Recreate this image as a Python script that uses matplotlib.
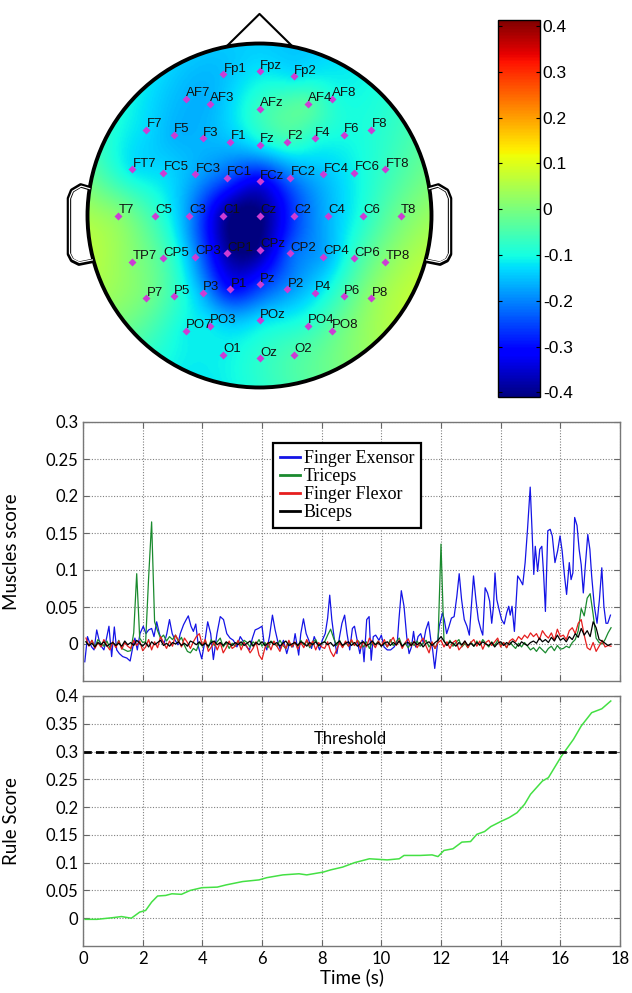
import numpy as np
import matplotlib.pyplot as plt
from matplotlib.patches import Circle
from matplotlib.ticker import FuncFormatter

plt.rcParams['font.family'] = ['Lato', 'DejaVu Sans']

# ---- topographic map: electrode names, positions (head radius = 1) and values
names = ['Fp1', 'Fpz', 'Fp2',
         'AF7', 'AF3', 'AFz', 'AF4', 'AF8',
         'F7', 'F5', 'F3', 'F1', 'Fz', 'F2', 'F4', 'F6', 'F8',
         'FT7', 'FC5', 'FC3', 'FC1', 'FCz', 'FC2', 'FC4', 'FC6', 'FT8',
         'T7', 'C5', 'C3', 'C1', 'Cz', 'C2', 'C4', 'C6', 'T8',
         'TP7', 'CP5', 'CP3', 'CP1', 'CPz', 'CP2', 'CP4', 'CP6', 'TP8',
         'P7', 'P5', 'P3', 'P1', 'Pz', 'P2', 'P4', 'P6', 'P8',
         'PO7', 'PO3', 'POz', 'PO4', 'PO8',
         'O1', 'Oz', 'O2']
elec_x = [-0.21, 0.0, 0.20,
          -0.43, -0.29, 0.0, 0.28, 0.42,
          -0.66, -0.50, -0.33, -0.17, 0.0, 0.16, 0.32, 0.49, 0.65,
          -0.74, -0.56, -0.375, -0.19, 0.0, 0.18, 0.37, 0.55, 0.73,
          -0.82, -0.61, -0.41, -0.21, 0.0, 0.20, 0.40, 0.60, 0.82,
          -0.74, -0.56, -0.375, -0.19, 0.0, 0.18, 0.37, 0.55, 0.73,
          -0.66, -0.50, -0.33, -0.17, 0.0, 0.16, 0.32, 0.49, 0.65,
          -0.43, -0.29, 0.0, 0.28, 0.42,
          -0.21, 0.0, 0.20]
elec_y = [0.82, 0.84, 0.81,
          0.68, 0.65, 0.62, 0.65, 0.68,
          0.50, 0.47, 0.45, 0.43, 0.41, 0.43, 0.45, 0.47, 0.50,
          0.27, 0.25, 0.24, 0.22, 0.20, 0.22, 0.24, 0.25, 0.27,
          0.0, 0.0, 0.0, 0.0, 0.0, 0.0, 0.0, 0.0, 0.0,
          -0.27, -0.25, -0.24, -0.22, -0.20, -0.22, -0.24, -0.25, -0.27,
          -0.48, -0.47, -0.45, -0.43, -0.40, -0.43, -0.45, -0.47, -0.48,
          -0.67, -0.64, -0.61, -0.64, -0.67,
          -0.81, -0.83, -0.81]
elec_v = [-0.15, -0.12, -0.12,
          -0.16, -0.16, -0.07, -0.04, -0.09,
          -0.13, -0.16, -0.16, -0.15, -0.12, -0.07, -0.09, -0.10, -0.09,
          -0.12, -0.13, -0.17, -0.24, -0.32, -0.21, -0.15, -0.11, -0.07,
          0.01, -0.07, -0.19, -0.38, -0.41, -0.26, -0.16, -0.09, -0.01,
          0.01, -0.05, -0.19, -0.38, -0.39, -0.23, -0.17, -0.07, 0.01,
          -0.01, -0.07, -0.17, -0.30, -0.27, -0.19, -0.13, -0.05, 0.02,
          -0.11, -0.12, -0.13, -0.08, -0.03,
          -0.11, -0.08, -0.05]
cbar_ticks = [-0.4, -0.3, -0.2, -0.1, 0, 0.1, 0.2, 0.3, 0.4]

# ---- muscle scores (values in thousandths)
blue_pts = [(0.06, -24), (0.15, 10), (0.21, 3), (0.29, -4), (0.37, -8), (0.46, 19), (0.54, 5),
            (0.63, -4), (0.70, -8), (0.79, 8), (0.87, 24), (0.96, -17), (1.05, 23), (1.13, -8),
            (1.22, -13), (1.33, -17), (1.47, -19), (1.58, -23), (1.67, -4), (1.74, 8), (1.82, -8),
            (1.91, 14), (2.02, 24), (2.11, 14), (2.20, 19), (2.30, 21), (2.38, 10), (2.47, 30),
            (2.56, 14), (2.64, 5), (2.72, 1), (2.81, 14), (2.90, 33), (2.99, 14), (3.09, 5),
            (3.18, -1), (3.26, 14), (3.37, 26), (3.46, 33), (3.53, 38), (3.62, 24), (3.70, 17),
            (3.78, 27), (3.87, -4), (3.98, -20), (4.09, 5), (4.18, 30), (4.28, 14), (4.37, -21),
            (4.49, 14), (4.60, 37), (4.71, 33), (4.82, 14), (4.93, 8), (5.04, 5), (5.16, -4),
            (5.27, 10), (5.38, 3), (5.49, -4), (5.58, -8), (5.68, 8), (5.77, 19), (5.88, 21),
            (6.00, 24), (6.07, 1), (6.16, -8), (6.25, 10), (6.35, 39), (6.44, 19), (6.52, 5),
            (6.61, -7), (6.72, 5), (6.83, -13), (6.92, 1), (7.04, -4), (7.11, 14), (7.23, -15),
            (7.30, 14), (7.39, 34), (7.48, 14), (7.57, 5), (7.66, -6), (7.75, 10), (7.84, 1),
            (7.93, -8), (8.02, 5), (8.12, 14), (8.20, 35), (8.27, 66), (8.34, 33), (8.42, 8),
            (8.51, -13), (8.60, 10), (8.68, 28), (8.77, 39), (8.85, 14), (8.94, -8),
            (9.03, 21), (9.10, 24), (9.19, 5), (9.28, -13), (9.36, 5), (9.42, -24), (9.51, 33),
            (9.59, 37), (9.66, -22), (9.73, 10), (9.81, 12), (9.92, 5), (10.00, 12), (10.09, -4),
            (10.20, -8), (10.31, -8), (10.43, -4), (10.54, 5), (10.59, 33), (10.67, 72),
            (10.76, 51), (10.85, 10), (10.93, -13), (11.01, -4), (11.08, 17), (11.15, -4),
            (11.23, 10), (11.32, 14), (11.41, 1), (11.49, 19), (11.58, 30), (11.66, 5),
            (11.72, -8), (11.79, -33), (11.86, -8), (11.94, 24), (12.05, 42), (12.11, 33),
            (12.19, 14), (12.27, 24), (12.35, 35), (12.44, 37), (12.53, 64), (12.61, 95),
            (12.69, 60), (12.78, 33), (12.87, 24), (12.95, 12), (13.02, 51), (13.09, 92),
            (13.17, 60), (13.25, 33), (13.34, 19), (13.40, 12), (13.48, 76), (13.56, 69),
            (13.63, 58), (13.70, 28), (13.76, 51), (13.81, 96), (13.87, 60), (13.95, 46),
            (14.03, 33), (14.12, 27), (14.20, 42), (14.27, 51), (14.32, 39), (14.38, 51),
            (14.46, 17), (14.57, 92), (14.65, 87), (14.74, 80), (14.82, 110), (14.90, 155),
            (14.99, 212), (15.05, 155), (15.11, 94), (15.16, 132), (15.24, 98), (15.31, 128),
            (15.38, 132), (15.44, 94), (15.50, 44), (15.58, 153), (15.66, 155), (15.73, 146),
            (15.82, 110), (15.91, 126), (15.99, 146), (16.06, 126), (16.14, 92), (16.21, 67),
            (16.30, 110), (16.36, 87), (16.42, 96), (16.48, 171), (16.56, 160), (16.63, 128),
            (16.70, 107), (16.77, 69), (16.84, 107), (16.92, 148), (16.99, 128), (17.05, 92),
            (17.14, 51), (17.23, 28), (17.31, 60), (17.39, 103), (17.46, 51), (17.53, 28),
            (17.59, 28), (17.68, 39)]

t_grid = np.round(np.arange(1, 178) * 0.1, 1)   # 0.1 ... 17.7 s
triceps = [3, -2, 5, -4, 6, 1, -3, 4, -5, 2,
           -3, 5, -6, -8, -10, -9, 15, 95, 8, 2,
           3, 90, 165, 30, 18, 8, 12, 4, 10, 6,
           12, 3, 9, -2, -10, -12, -6, -9, 2, -3,
           4, -5, 6, -2, 3, 8, -4, 2, -6, 1,
           -3, 4, -2, 5, 2, -4, 3, -1, 6, -3,
           2, -5, 4, 1, -3, 5, -2, -6, 3, -4,
           2, -3, 5, -1, 4, -5, 2, 6, -3, 1,
           3, 12, 20, 8, -2, 5, -4, 2, -3, 4,
           -2, 5, 1, -4, 3, -6, 2, -1, 4, -3,
           2, -4, 6, -2, 3, 8, -3, 1, -5, 2,
           -2, 4, -3, 1, 5, -4, 2, -6, 3, 135,
           4, -2, 5, -3, 2, 6, -4, 1, -5, 3,
           -3, 4, -2, 6, 1, -4, 3, -2, 5, -1,
           2, -5, 3, -2, -6, 1, -4, 2, -3, -8,
           -5, -10, -4, -8, -12, -6, -3, -9, -2, -7,
           -6, -3, -5, 2, 6, 18, 48, 38, 62, 68,
           40, 8, 2, 0, 6, 15, 22]
flexor = [8, -3, 5, -6, 2, -4, 6, -2, -8, 3,
          -5, 4, -7, 2, -3, -6, 5, -2, 4, -9,
          -4, 6, -8, 3, -5, 10, 2, -6, 4, -3,
          12, 5, -4, 8, 2, -6, 3, 10, 14, -2,
          6, -10, -4, 3, -8, 2, -12, -5, 4, -6,
          -3, 5, -8, 2, -4, -12, -6, 3, -15, -21,
          -5, 2, -8, 4, -3, -10, 1, -6, 5, -4,
          3, -7, 2, -5, 6, -3, 4, -8, 2, -4,
          -6, 3, -10, -17, -8, 2, -5, 4, -3, 6,
          -2, 5, -6, 3, -4, 8, 2, -5, 4, -3,
          6, -4, 3, 9, -2, 5, -6, 2, 7, -3,
          4, -5, 2, 8, -3, -12, 3, -6, 2, 5,
          -4, 3, -6, 2, 5, -8, -3, 4, -5, 2,
          6, -3, 4, -7, 2, 5, -2, 3, 8, -4,
          2, -5, 4, 7, 3, 10, 6, 12, 8, 15,
          10, 14, 6, 18, 12, 8, 15, 5, 20, 10,
          12, 6, 18, 22, 14, 28, 33, 12, -5, -8,
          2, -10, -3, 5, -4, -2, -3]
biceps = [3, -2, 1, -4, 2, -1, 3, -3, 0, 2,
          -2, 1, -3, 4, -1, 2, -2, 5, 1, -3,
          2, -4, 3, -1, 2, 5, -2, 1, -3, 2,
          0, 3, -2, 1, -3, 4, 2, -1, 3, -2,
          1, -3, 2, 4, -1, 2, -2, 3, 0, -2,
          2, -1, 3, -2, 1, 4, -3, 2, -1, 3,
          -2, 1, 3, -1, 2, -3, 1, 4, -2, 0,
          2, -2, 3, 1, -3, 2, -1, 3, -2, 1,
          3, -1, 2, -3, 1, 4, -2, 1, 3, -2,
          2, -3, 1, 3, -2, 0, 4, -1, 2, -3,
          1, 3, -2, 2, -1, 4, -3, 1, 2, -2,
          3, -1, 2, -4, 1, 3, -2, 2, 5, 10,
          4, -2, 3, 1, -3, 2, -1, 4, -2, 1,
          -3, 2, -1, 3, 0, -2, 2, -4, 1, 3,
          -2, 2, -1, 4, 1, -3, 3, 0, -2, 2,
          4, 1, 8, 3, 6, 2, 9, 4, 12, 5,
          8, 3, 10, 6, 14, 9, 21, 12, 18, 10,
          30, 22, 6, 4, 1, -2, 0]

# ---- rule score
rule_pts = [(0.07, -0.002), (0.47, -0.002), (1.0, 0.001), (1.29, 0.003), (1.62, 0.0),
            (1.9, 0.011), (2.1, 0.014), (2.3, 0.029), (2.5, 0.04), (2.77, 0.041), (2.98, 0.044),
            (3.3, 0.043), (3.59, 0.05), (3.99, 0.055), (4.5, 0.056), (4.8, 0.06), (5.35, 0.066),
            (5.9, 0.069), (6.16, 0.073), (6.7, 0.078), (7.24, 0.08), (7.5, 0.078), (8.05, 0.083),
            (8.3, 0.087), (8.7, 0.092), (9.1, 0.1), (9.6, 0.107), (10.2, 0.105), (10.6, 0.107),
            (10.76, 0.113), (11.3, 0.113), (11.7, 0.114), (11.9, 0.111), (12.1, 0.122),
            (12.4, 0.125), (12.7, 0.137), (12.99, 0.138), (13.2, 0.151), (13.46, 0.156),
            (13.67, 0.165), (14.0, 0.174), (14.28, 0.181), (14.55, 0.19), (14.8, 0.205),
            (15.0, 0.223), (15.4, 0.247), (15.6, 0.253), (16.04, 0.292), (16.44, 0.322),
            (16.7, 0.346), (17.05, 0.37), (17.39, 0.377), (17.69, 0.391)]
threshold = 0.3

W, H = 632, 993
fig = plt.figure(figsize=(W / 100, H / 100), dpi=100)


def px_axes(x0, y0, x1, y1):
    return fig.add_axes([x0 / W, 1 - y1 / H, (x1 - x0) / W, (y1 - y0) / H])


def fmt(v, pos=None):
    return '0' if abs(v) < 1e-9 else '%g' % round(v, 2)


# ---------------- head plot ----------------
ax0 = px_axes(49.5, 5.5, 469.5, 425.5)
ax0.set_xlim(-1.221, 1.221)
ax0.set_ylim(-1.221, 1.221)
ax0.axis('off')

ex, ey, ev = np.array(elec_x), np.array(elec_y), np.array(elec_v)


def green_fn(r):
    with np.errstate(divide='ignore', invalid='ignore'):
        g = r ** 2 * (np.log(r) - 1)
    return np.where(r > 0, g, 0.0)


# biharmonic spline interpolation (like griddata 'v4')
dd = np.hypot(ex[:, None] - ex[None, :], ey[:, None] - ey[None, :])
wts = np.linalg.solve(green_fn(dd), ev)
gx = np.linspace(-1, 1, 301)
GX, GY = np.meshgrid(gx, gx)
rr = np.hypot(GX.ravel()[:, None] - ex[None, :], GY.ravel()[:, None] - ey[None, :])
Z = (green_fn(rr) @ wts).reshape(GX.shape)

im = ax0.imshow(Z, extent=(-1, 1, -1, 1), origin='lower', cmap='jet',
                vmin=-0.41, vmax=0.413, interpolation='bilinear')
im.set_clip_path(Circle((0, 0), 1.0, transform=ax0.transData))
ax0.add_patch(Circle((0, 0), 1.0, fill=False, lw=2.8, color='black'))
ax0.plot([-0.19, 0, 0.19], [0.985, 1.172, 0.985], color='black', lw=1.5)
ear_x = np.array([-0.99, -1.04, -1.09, -1.108, -1.108, -1.09, -1.05, -0.975])
ear_y = np.array([0.16, 0.175, 0.145, 0.10, -0.225, -0.26, -0.28, -0.265])
for s in (1, -1):
    ax0.plot(s * ear_x, ear_y, color='black', lw=3.2, solid_capstyle='round')
    ax0.plot(s * (ear_x * 0.997), ear_y * 0.975, color='white', lw=0.9)

ax0.plot(ex, ey, 'D', color='#cc3cd4', ms=4, mec='none')
for n, x, y in zip(names, ex, ey):
    ax0.annotate(n, (x, y), xytext=(0.3, 1.8), textcoords='offset points',
                 fontsize=9.5, family='Liberation Sans', color='#111111',
                 ha='left', va='baseline')

# colorbar
cax = px_axes(498, 20, 540, 397)
cb = fig.colorbar(im, cax=cax)
cb.set_ticks(cbar_ticks)
cax.yaxis.set_major_formatter(FuncFormatter(fmt))
cax.tick_params(direction='in', left=True, right=True, length=3, labelsize=12.5, pad=2)
for lab in cax.get_yticklabels():
    lab.set_family('Liberation Sans')
cb.outline.set_linewidth(1)

# ---------------- muscles score ----------------
grid_kw = dict(ls=(0, (1, 1.5)), color='#808080', lw=0.8)


def style(ax):
    ax.set_xlim(0, 18)
    ax.set_xticks(range(0, 19, 2))
    ax.grid(True, **grid_kw)
    ax.tick_params(direction='in', top=True, right=True, length=4, labelsize=12,
                   color='#666666')
    for sp in ax.spines.values():
        sp.set_color('#777777')
        sp.set_linewidth(1)
    ax.yaxis.set_major_formatter(FuncFormatter(fmt))


ax1 = px_axes(83, 422, 620, 681)
bt, bv = np.array(blue_pts).T
ax1.plot(bt, bv / 1000, color='#1414e6', lw=0.9, label='Finger Exensor')
ax1.plot(t_grid, np.array(triceps) / 1000, color='#1a8a2e', lw=0.9, label='Triceps')
ax1.plot(t_grid, np.array(flexor) / 1000, color='#e61e1e', lw=0.9, label='Finger Flexor')
ax1.plot(t_grid, np.array(biceps) / 1000, color='black', lw=0.9, label='Biceps')
ax1.set_ylim(-0.05, 0.3)
ax1.set_yticks(np.arange(0, 0.301, 0.05))
style(ax1)
ax1.set_xticklabels([])
ax1.set_ylabel('Muscles score', fontsize=13.5)
ax1.yaxis.set_label_coords(-0.117, 0.5)
leg = ax1.legend(loc='upper left', bbox_to_anchor=(273 / W, 1 - 443 / H),
                 bbox_transform=fig.transFigure,
                 prop={'family': 'Liberation Serif', 'size': 13},
                 fancybox=False, edgecolor='black', framealpha=1,
                 borderaxespad=0, handlelength=1.1, handletextpad=0.2,
                 labelspacing=0.05, borderpad=0.4)
leg.get_frame().set_linewidth(1.6)
for hl in leg.get_lines():
    hl.set_linewidth(2)

# ---------------- rule score ----------------
ax2 = px_axes(83, 696, 620, 946)
rt, rv = np.array(rule_pts).T
ax2.plot(rt, rv, color='#44e044', lw=1.1)
ax2.axhline(threshold, color='black', lw=2, ls=(0, (3, 1.5)))
ax2.text(8.96, 0.323, 'Threshold', ha='center', va='center', fontsize=12)
ax2.set_ylim(-0.05, 0.4)
ax2.set_yticks(np.arange(0, 0.401, 0.05))
style(ax2)
ax2.xaxis.set_major_formatter(FuncFormatter(fmt))
ax2.set_ylabel('Rule Score', fontsize=13.5)
ax2.yaxis.set_label_coords(-0.117, 0.5)
ax2.set_xlabel('Time (s)', fontsize=13.5, labelpad=1)

fig.savefig('out.png', dpi=100)
